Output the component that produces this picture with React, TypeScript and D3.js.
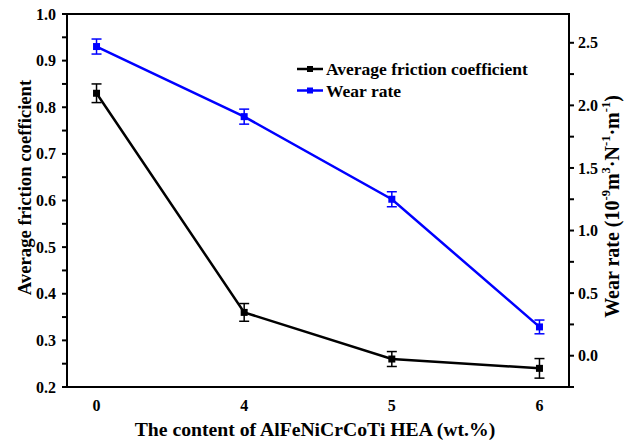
import React from "react";
import * as d3 from "d3";

const categories = ["0", "4", "5", "6"];
const friction = [0.83, 0.36, 0.26, 0.24];
const frictionErr = [0.02, 0.019, 0.016, 0.021];
const wear = [2.47, 1.91, 1.25, 0.23];
const wearErr = [0.06, 0.06, 0.06, 0.055];
const leftTicks = [0.2, 0.3, 0.4, 0.5, 0.6, 0.7, 0.8, 0.9, 1.0];
const rightTicks = [0.0, 0.5, 1.0, 1.5, 2.0, 2.5];

const font = "'Liberation Serif', 'Times New Roman', serif";

const App = () => {
  const margin = { top: 14, right: 56, bottom: 53, left: 67 };
  const width = 625 - margin.left - margin.right;
  const height = 440 - margin.top - margin.bottom;

  const x = d3.scaleLinear().domain([-0.2, 3.2]).range([0, width]);
  const yL = d3.scaleLinear().domain([0.2, 1.0]).range([height, 0]);
  const yR = d3.scaleLinear().domain([-0.25, 2.73]).range([height, 0]);

  const lineL = d3
    .line<number>()
    .x((d, i) => x(i))
    .y((d) => yL(d));
  const lineR = d3
    .line<number>()
    .x((d, i) => x(i))
    .y((d) => yR(d));

  const leftMinor = d3.range(0.25, 1.0, 0.1);
  const rightMinor = [-0.25, 0.25, 0.75, 1.25, 1.75, 2.25];

  const series = [
    { values: friction, errs: frictionErr, scale: yL, line: lineL, color: "#000000" },
    { values: wear, errs: wearErr, scale: yR, line: lineR, color: "#0000ff" },
  ];

  return (
    <svg width={625} height={440} style={{ position: "absolute", left: 0, top: 0, background: "#fff" }}>
      <g transform={`translate(${margin.left},${margin.top})`} fontFamily={font} fontWeight="bold">
        {series.map((s, si) => (
          <g key={si}>
            <path d={s.line(s.values) || ""} fill="none" stroke={s.color} strokeWidth={2.5} />
            {s.values.map((v, i) => (
              <g key={i}>
                <line x1={x(i)} x2={x(i)} y1={s.scale(v - s.errs[i])} y2={s.scale(v + s.errs[i])} stroke={s.color} strokeWidth={1.5} />
                <line x1={x(i) - 5} x2={x(i) + 5} y1={s.scale(v - s.errs[i])} y2={s.scale(v - s.errs[i])} stroke={s.color} strokeWidth={1.5} />
                <line x1={x(i) - 5} x2={x(i) + 5} y1={s.scale(v + s.errs[i])} y2={s.scale(v + s.errs[i])} stroke={s.color} strokeWidth={1.5} />
                <rect x={x(i) - 3.5} y={s.scale(v) - 3.5} width={7} height={7} fill={s.color} />
              </g>
            ))}
          </g>
        ))}

        <rect x={0} y={0} width={width} height={height} fill="none" stroke="#000" strokeWidth={2} />

        {leftTicks.map((t) => (
          <g key={t}>
            <line x1={-5} x2={0} y1={yL(t)} y2={yL(t)} stroke="#000" strokeWidth={2} />
            <text x={-11} y={yL(t)} dy="0.35em" textAnchor="end" fontSize={16}>
              {t.toFixed(1)}
            </text>
          </g>
        ))}
        {leftMinor.map((t) => (
          <line key={t} x1={-5} x2={0} y1={yL(t)} y2={yL(t)} stroke="#000" strokeWidth={2} />
        ))}

        {rightTicks.map((t) => (
          <g key={t}>
            <line x1={width} x2={width + 5} y1={yR(t)} y2={yR(t)} stroke="#000" strokeWidth={2} />
            <text x={width + 9} y={yR(t)} dy="0.35em" textAnchor="start" fontSize={16}>
              {t.toFixed(1)}
            </text>
          </g>
        ))}
        {rightMinor.map((t) => (
          <line key={t} x1={width} x2={width + 5} y1={yR(t)} y2={yR(t)} stroke="#000" strokeWidth={2} />
        ))}

        {categories.map((c, i) => (
          <text key={c} x={x(i)} y={height + 24} textAnchor="middle" fontSize={16}>
            {c}
          </text>
        ))}

        <text x={315 - margin.left} y={height + 49} textAnchor="middle" fontSize={19.7}>
          The content of AlFeNiCrCoTi HEA (wt.%)
        </text>
        <text transform={`translate(${-36},${height / 2 - 13})rotate(-90)`} textAnchor="middle" fontSize={18.7}>
          Average friction coefficient
        </text>
        <text transform={`translate(${width + 50},${height / 2 + 6})rotate(-90)`} textAnchor="middle" fontSize={20}>
          Wear rate (10
          <tspan fontSize={12.5} dy={-9}>-9</tspan>
          <tspan dy={9}>m</tspan>
          <tspan fontSize={12.5} dy={-9}>3</tspan>
          <tspan dy={9}>·N</tspan>
          <tspan fontSize={12.5} dy={-9}>-1</tspan>
          <tspan dy={9}>·m</tspan>
          <tspan fontSize={12.5} dy={-9}>-1</tspan>
          <tspan dy={9}>)</tspan>
        </text>

        {[
          { label: "Average friction coefficient", color: "#000000" },
          { label: "Wear rate", color: "#0000ff" },
        ].map((l, i) => (
          <g key={l.label} transform={`translate(${297 - margin.left},${69 - margin.top + i * 21.5})`}>
            <line x1={0} x2={26} y1={0} y2={0} stroke={l.color} strokeWidth={2.5} />
            <rect x={10} y={-3} width={6} height={6} fill={l.color} />
            <text x={29} y={0} dy="0.35em" fontSize={17.5}>
              {l.label}
            </text>
          </g>
        ))}
      </g>
    </svg>
  );
};

export default App;
